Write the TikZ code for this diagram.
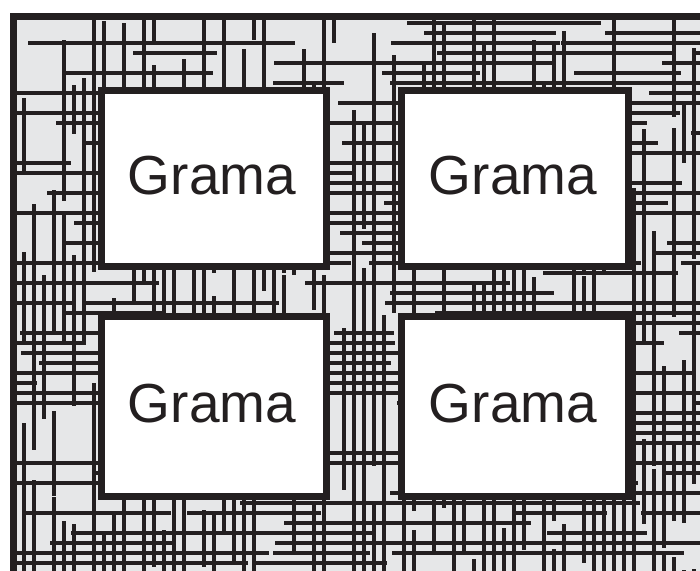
\documentclass[tikz,border=0pt]{standalone}
\usepackage{fontspec}
\setmainfont{Liberation Sans}
\definecolor{ink}{HTML}{231F20}
\definecolor{paper}{HTML}{E6E7E8}
\tikzset{
  gbox/.style={draw=ink, line width=7pt, fill=white, inner sep=0pt, outer sep=0pt},
  glabel/.style={anchor=base, inner sep=0pt, text=ink, font=\fontsize{55}{60}\selectfont},
  hatch/.style={draw=ink, line width=3.4pt},
  frame/.style={draw=ink, line width=7pt}
}
\begin{document}
\begin{tikzpicture}[x=1pt,y=-1pt]
\useasboundingbox (0,0) rectangle (700,570);
\clip (0,0) rectangle (700,570);
\fill[white] (0,0) rectangle (700,570);
\begin{scope}
  \clip (13.5,16.5) rectangle (720,590);
  \fill[paper] (13.5,16.5) rectangle (720,590);
  \pgfmathsetseed{2024}
  \foreach \i in {1,...,280}{
    \pgfmathrandominteger{\xa}{-30}{700}
    \pgfmathrandominteger{\ka}{2}{57}
    \pgfmathrandominteger{\len}{40}{200}
    \pgfmathsetmacro{\ya}{10*\ka+3}
    \draw[hatch] (\xa,\ya) -- ++(\len,0);
  }
  \foreach \i in {1,...,280}{
    \pgfmathrandominteger{\ka}{2}{70}
    \pgfmathrandominteger{\ya}{-30}{570}
    \pgfmathrandominteger{\len}{40}{200}
    \pgfmathsetmacro{\xa}{10*\ka+4}
    \draw[hatch] (\xa,\ya) -- ++(0,\len);
  }
\end{scope}
\draw[frame] (720,16.5) -- (13.5,16.5) -- (13.5,590);
\node[gbox, minimum width=225pt, minimum height=176pt] (b1) at (214,178.5) {};
\node[gbox, minimum width=227pt, minimum height=176pt] (b2) at (515,178.5) {};
\node[gbox, minimum width=225pt, minimum height=180pt] (b3) at (214,406.5) {};
\node[gbox, minimum width=227pt, minimum height=180pt] (b4) at (515,406.5) {};
\node[glabel] (t1) at (212,194) {Grama};
\node[glabel] (t2) at (513,194) {Grama};
\node[glabel] (t3) at (212,422) {Grama};
\node[glabel] (t4) at (513,422) {Grama};
\end{tikzpicture}
\end{document}
